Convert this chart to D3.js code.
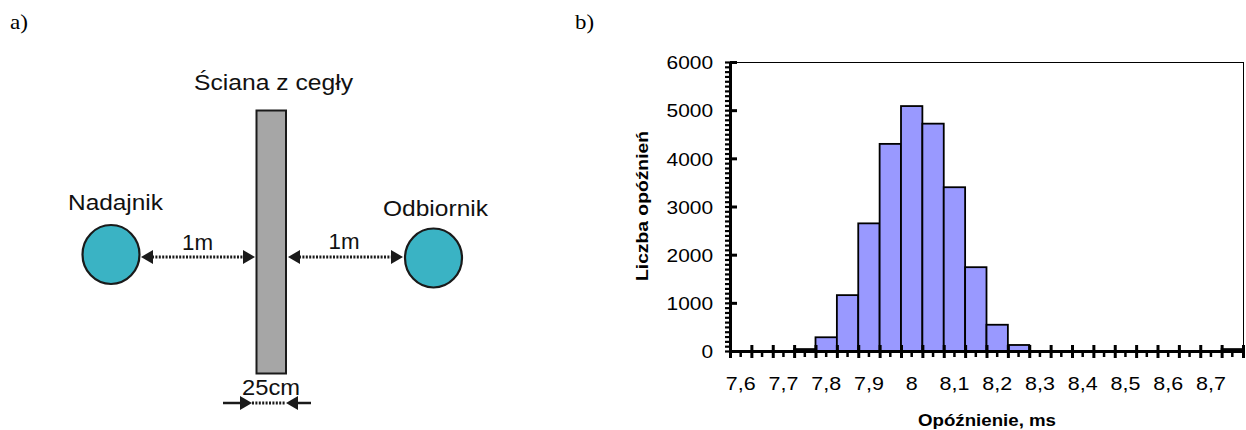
<!DOCTYPE html>
<html><head><meta charset="utf-8">
<script src="https://cdn.jsdelivr.net/npm/d3@7/dist/d3.min.js"></script>
<style>body{margin:0;background:#fff}svg{display:block}</style>
</head><body><svg id="c" width="1246" height="430"></svg>
<script>
// ---- data ----
const categories = ["7,6","7,65","7,7","7,75","7,8","7,85","7,9","7,95","8","8,05","8,1","8,15",
                    "8,2","8,25","8,3","8,35","8,4","8,45","8,5","8,55","8,6","8,65","8,7","8,75"];
const counts = [0,0,0,40,285,1160,2650,4300,5085,4720,3400,1740,545,125,0,0,0,0,0,0,0,0,0,40];
const xTickLabels = ["7,6","7,7","7,8","7,9","8","8,1","8,2","8,3","8,4","8,5","8,6","8,7"];
const yTickValues = [0,1000,2000,3000,4000,5000,6000];
const yTitle = "Liczba opóźnień";
const xTitle = "Opóźnienie, ms";

const FONT = "'Liberation Sans', Arial, Helvetica, sans-serif";
const svg = d3.select("#c");

function fit(sel, L, cx, anchor) {
  sel.attr("textLength", L).attr("lengthAdjust", "spacingAndGlyphs").attr("text-anchor", "start");
  if (anchor === "middle") sel.attr("x", cx - L / 2);
  else if (anchor === "end") sel.attr("x", cx - L);
  else sel.attr("x", cx);
}
function stretchAll(sel, k, anchor, ref) {
  sel.each(function () {
    const l = this.getComputedTextLength() * k;
    const t = d3.select(this);
    t.attr("textLength", l).attr("lengthAdjust", "spacingAndGlyphs").attr("text-anchor", "start");
    if (anchor === "middle") t.attr("x", ref - l / 2);
    else if (anchor === "end") t.attr("x", ref - l);
  });
}

// ---- panel labels ----
svg.append("text").text("a)").attr("y", 29).attr("font-family", "'Liberation Serif', 'Times New Roman', serif")
  .attr("font-size", 21).attr("fill", "#000").call(fit, 18, 10, "start");
svg.append("text").text("b)").attr("y", 29).attr("font-family", "'Liberation Serif', 'Times New Roman', serif")
  .attr("font-size", 21).attr("fill", "#000").call(fit, 19, 575, "start");

// ---- diagram (a) ----
const dg = svg.append("g").attr("font-family", FONT).attr("fill", "#111");
dg.append("text").text("Ściana z cegły").attr("y", 90).attr("font-size", 21.5).call(fit, 159, 273.5, "middle");
dg.append("text").text("Nadajnik").attr("y", 210).attr("font-size", 21.5).call(fit, 95, 115.5, "middle");
dg.append("text").text("Odbiornik").attr("y", 216).attr("font-size", 21.5).call(fit, 105, 435.5, "middle");
dg.append("text").text("1m").attr("y", 250).attr("font-size", 21.5).call(fit, 31, 197.5, "middle");
dg.append("text").text("1m").attr("y", 249).attr("font-size", 21.5).call(fit, 31, 344, "middle");
dg.append("text").text("25cm").attr("y", 395).attr("font-size", 21.5).call(fit, 58, 271, "middle");

// wall
dg.append("rect").attr("x", 256.5).attr("y", 110.5).attr("width", 29.5).attr("height", 263)
  .attr("fill", "#a6a6a6").attr("stroke", "#1a1a1a").attr("stroke-width", 2);
// circles
dg.append("ellipse").attr("cx", 111).attr("cy", 254.5).attr("rx", 28.5).attr("ry", 29.5)
  .attr("fill", "#3ab3c4").attr("stroke", "#1a1a1a").attr("stroke-width", 2.2);
dg.append("ellipse").attr("cx", 433.5).attr("cy", 258).attr("rx", 28.5).attr("ry", 29.5)
  .attr("fill", "#3ab3c4").attr("stroke", "#1a1a1a").attr("stroke-width", 2.2);

function head(tipX, y, dir) { // dir -1 points left, +1 points right
  const L = 12, h = 7;
  dg.append("path").attr("d", `M${tipX},${y}L${tipX - dir * L},${y - h}L${tipX - dir * L},${y + h}Z`)
    .attr("fill", "#1a1a1a");
}
function dotted(x1, x2, y) {
  dg.append("line").attr("x1", x1).attr("x2", x2).attr("y1", y).attr("y2", y)
    .attr("stroke", "#1a1a1a").attr("stroke-width", 3).attr("stroke-dasharray", "2,1.4");
}
function solid(x1, x2, y) {
  dg.append("line").attr("x1", x1).attr("x2", x2).attr("y1", y).attr("y2", y)
    .attr("stroke", "#1a1a1a").attr("stroke-width", 2.5);
}
// left double arrow
dotted(152, 244, 257); head(141, 257, -1); head(255, 257, 1);
// right double arrow
dotted(299, 392, 257); head(288, 257, -1); head(403, 257, 1);
// 25cm arrows
solid(223, 241, 403); head(252, 403, 1);
dotted(252, 286, 403);
head(286, 403, -1); solid(297, 311, 403);

// ---- chart (b) ----
const plot = { left: 730, right: 1243, top: 62, bottom: 351 };
const x = d3.scaleBand().domain(categories).range([plot.left, plot.right]).padding(0);
const xEdge = d3.scaleLinear().domain([0, categories.length]).range([plot.left, plot.right]);
const y = d3.scaleLinear().domain([0, 6000]).range([plot.bottom, plot.top]);

const cg = svg.append("g").attr("font-family", FONT);

// plot area border (top and right)
cg.append("line").attr("x1", plot.left).attr("x2", plot.right).attr("y1", plot.top + 0.5).attr("y2", plot.top + 0.5)
  .attr("stroke", "#000").attr("stroke-width", 1);
cg.append("line").attr("x1", plot.right + 0.5).attr("x2", plot.right + 0.5).attr("y1", plot.top).attr("y2", plot.bottom)
  .attr("stroke", "#000").attr("stroke-width", 1);

// bars
const barData = categories.map((c, i) => ({ c, v: counts[i] })).filter(d => d.v > 0);
cg.append("g").selectAll("rect").data(barData).join("rect")
  .attr("x", d => x(d.c)).attr("width", x.bandwidth())
  .attr("y", d => y(d.v)).attr("height", d => y(0) - y(d.v))
  .attr("fill", "#9999ff").attr("stroke", "#000").attr("stroke-width", 1.8);

// y axis minor ticks
const yMinor = cg.append("g").attr("transform", `translate(${plot.left},0)`)
  .call(d3.axisLeft(y).tickValues(d3.range(0, 6001, 100)).tickSize(5).tickSizeOuter(0).tickFormat(""));
yMinor.select(".domain").remove();
yMinor.selectAll(".tick line").attr("stroke", "#000").attr("stroke-width", 2.2);

// y axis major
const yAx = cg.append("g").attr("transform", `translate(${plot.left},0)`)
  .call(d3.axisLeft(y).tickValues(yTickValues).tickSize(7).tickSizeOuter(0).tickFormat(d => String(d)));
yAx.select(".domain").attr("stroke", "#000").attr("stroke-width", 3);
yAx.selectAll(".tick line").attr("x2", 7).attr("stroke", "#000").attr("stroke-width", 3);
yAx.selectAll(".tick text").attr("font-size", 18.5).attr("font-family", FONT).attr("fill", "#000").attr("dy", "0.36em");
yAx.selectAll(".tick text").call(stretchAll, 1.13, "end", -17);

// x axis minor ticks at bin centres
const xMinor = cg.append("g").attr("transform", `translate(0,${plot.bottom})`)
  .call(d3.axisBottom(x).tickSize(6).tickSizeOuter(0).tickFormat(""));
xMinor.select(".domain").remove();
xMinor.selectAll(".tick line").attr("stroke", "#000").attr("stroke-width", 2.5);

// x axis major ticks at bin edges
const xMajor = cg.append("g").attr("transform", `translate(0,${plot.bottom})`)
  .call(d3.axisBottom(xEdge).tickValues(d3.range(0, categories.length + 1)).tickSize(7).tickSizeOuter(0).tickFormat(""));
xMajor.select(".domain").attr("stroke", "#000").attr("stroke-width", 3);
xMajor.selectAll(".tick line").attr("y1", -6).attr("stroke", "#000").attr("stroke-width", 3);

// x labels
const xLab = cg.append("g").attr("transform", `translate(0,${plot.bottom})`)
  .call(d3.axisBottom(x).tickValues(xTickLabels).tickSize(0).tickSizeOuter(0));
xLab.select(".domain").remove();
xLab.selectAll(".tick text").attr("font-size", 19).attr("font-family", FONT).attr("fill", "#000")
  .attr("y", 39).attr("dy", 0);
xLab.selectAll(".tick text").call(stretchAll, 1.13, "middle", 0);

// axis titles
cg.append("text").text(xTitle).attr("y", 426).attr("font-size", 16).attr("font-weight", "bold").attr("fill", "#000")
  .call(fit, 138, 987, "middle");
cg.append("text").text(yTitle).attr("transform", "translate(648,206) rotate(-90)")
  .attr("y", 0).attr("font-size", 16.5).attr("font-weight", "bold").attr("fill", "#000")
  .call(fit, 150, 0, "middle");
</script>
</body></html>
